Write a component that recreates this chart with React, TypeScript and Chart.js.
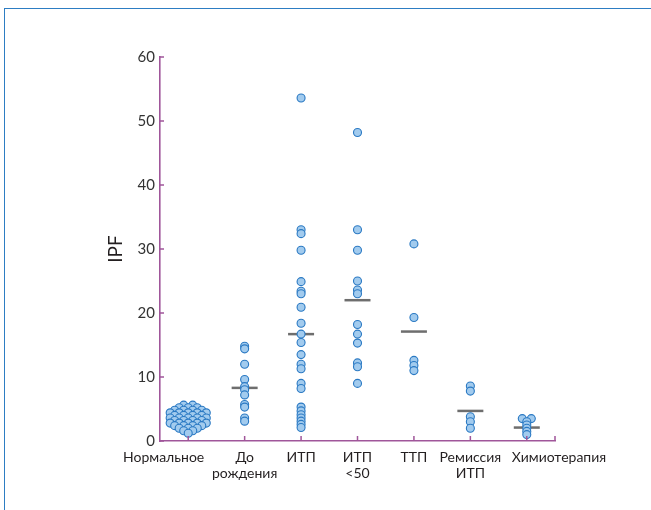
import { useEffect, useRef } from "react";
import { Chart, registerables } from "chart.js";

Chart.register(...registerables);

const categories: string[][] = [
  ["Нормальное"],
  ["До", "рождения"],
  ["ИТП"],
  ["ИТП", "<50"],
  ["ТТП"],
  ["Ремиссия", "ИТП"],
  ["Химиотерапия"],
];

const normal = [
  5.6, 5.6,
  5.2, 5.2, 5.2,
  4.8, 4.8, 4.8, 4.8,
  4.4, 4.4, 4.4, 4.4, 4.4,
  4.0, 4.0, 4.0, 4.0,
  3.6, 3.6, 3.6, 3.6, 3.6,
  3.2, 3.2, 3.2, 3.2,
  2.8, 2.8, 2.8, 2.8, 2.8,
  2.4, 2.4, 2.4, 2.4,
  2.0, 2.0, 2.0,
  1.6, 1.6,
  1.2,
];
const prenatal = [14.8, 14.4, 12.0, 9.6, 8.5, 8.0, 7.2, 5.7, 5.3, 3.6, 3.1];
const itp = [
  53.6, 33.0, 32.4, 29.8, 24.9, 23.4, 23.0, 20.9, 18.4, 16.7, 15.4, 13.5,
  12.0, 11.3, 9.0, 8.2, 5.3, 4.7, 4.1, 3.6, 3.1, 2.6, 2.1,
];
const itpUnder50 = [48.2, 33.0, 29.8, 25.0, 23.6, 23.0, 18.2, 16.7, 15.3, 12.2, 11.6, 9.0];
const ttp = [30.8, 19.3, 12.6, 11.8, 11.0];
const remission = [8.6, 7.8, 3.8, 3.0, 2.0];
const chemo = [3.5, 3.5, 3.0, 2.5, 2.0, 1.5, 1.0];

const groups = [normal, prenatal, itp, itpUnder50, ttp, remission, chemo];
const means = [3.5, 8.3, 16.7, 22.0, 17.1, 4.7, 2.1];
const yTicks = [0, 10, 20, 30, 40, 50, 60];

const AXIS = "#a0569a";
const FONT = "Lato, 'Open Sans', sans-serif";
const SWARM_STEP = 0.16;

function swarm(values: number[], cat: number) {
  const counts = new Map<number, number>();
  values.forEach((v) => counts.set(v, (counts.get(v) || 0) + 1));
  const seen = new Map<number, number>();
  return values.map((v) => {
    const n = counts.get(v) || 1;
    const k = seen.get(v) || 0;
    seen.set(v, k + 1);
    return { x: cat + (k - (n - 1) / 2) * SWARM_STEP, y: v };
  });
}

const axisDecor = {
  id: "axisDecor",
  afterDraw(chart: any) {
    const { ctx, chartArea, scales } = chart;
    const x = scales.x;
    const y = scales.y;
    ctx.save();
    ctx.strokeStyle = AXIS;
    ctx.lineWidth = 1.5;
    ctx.beginPath();
    y.ticks.forEach((t: any) => {
      const py = y.getPixelForValue(t.value);
      ctx.moveTo(chartArea.left, py);
      ctx.lineTo(chartArea.left + 4, py);
    });
    const xs = [...x.ticks.map((t: any) => t.value), x.max];
    xs.forEach((v: number) => {
      const px = x.getPixelForValue(v);
      ctx.moveTo(px, chartArea.bottom);
      ctx.lineTo(px, chartArea.bottom - 5);
    });
    ctx.stroke();

    // category labels (outer ones pulled away from neighbours as in the source)
    ctx.fillStyle = "#231f20";
    ctx.font = `14px ${FONT}`;
    ctx.textBaseline = "middle";
    const last = categories.length - 1;
    categories.forEach((lines, i) => {
      let px = x.getPixelForValue(i);
      let align: CanvasTextAlign = "center";
      if (i === 0) {
        align = "right";
        px += 16;
      } else if (i === last) {
        align = "left";
        px -= 15;
      }
      ctx.textAlign = align;
      lines.forEach((line, j) => {
        ctx.fillText(line, px, chartArea.bottom + 16 + j * 16);
      });
    });
    ctx.restore();
  },
};

export default function App() {
  const ref = useRef<HTMLCanvasElement | null>(null);

  useEffect(() => {
    if (!ref.current) return;
    const points = groups.flatMap((g, i) => swarm(g, i));
    const meanPts = means.map((m, i) => ({ x: i, y: m }));
    const chart = new Chart(ref.current, {
      type: "scatter",
      data: {
        datasets: [
          {
            data: points,
            pointRadius: 4,
            pointBorderWidth: 1.1,
            backgroundColor: "#a2cbee",
            borderColor: "#2a79c3",
          },
          {
            data: meanPts,
            pointStyle: "line",
            pointRadius: 13,
            pointBorderWidth: 2.5,
            borderColor: "#6e6e6e",
            backgroundColor: "#6e6e6e",
          },
        ],
      } as any,
      options: {
        responsive: false,
        animation: false,
        events: [],
        layout: { padding: { left: 0, right: 96, top: 57, bottom: 0 } },
        plugins: {
          legend: { display: false },
          tooltip: { enabled: false },
          title: { display: false },
        },
        scales: {
          x: {
            type: "linear",
            min: -0.5,
            max: 6.5,
            grid: { display: false, drawTicks: false },
            border: { display: true, color: AXIS, width: 1.6 },
            afterBuildTicks: (scale: any) => {
              scale.ticks = categories.map((_, i) => ({ value: i }));
            },
            afterFit: (scale: any) => {
              scale.height = 69;
            },
            ticks: { display: false },
          },
          y: {
            type: "linear",
            min: 0,
            max: 60,
            grid: { display: false, drawTicks: false },
            border: { display: true, color: AXIS, width: 1.6 },
            afterBuildTicks: (scale: any) => {
              scale.ticks = yTicks.map((v) => ({ value: v }));
            },
            afterFit: (scale: any) => {
              scale.width = 160;
            },
            title: {
              display: true,
              text: "IPF",
              color: "#231f20",
              font: { family: FONT, size: 19 },
              padding: { top: 104, bottom: 0 },
            },
            ticks: {
              padding: 5,
              color: "#333333",
              font: { family: FONT, size: 15 },
            },
          },
        },
      } as any,
      plugins: [axisDecor],
    });
    return () => chart.destroy();
  }, []);

  return (
    <div
      style={{
        position: "fixed",
        left: 0,
        top: 0,
        width: 651,
        height: 510,
        overflow: "hidden",
        background: "#ffffff",
      }}
    >
      <div
        style={{
          position: "absolute",
          left: 4,
          top: 8,
          width: 900,
          height: 900,
          border: "1.5px solid #2d7dc3",
          boxSizing: "border-box",
        }}
      />
      <canvas
        ref={ref}
        width={651}
        height={510}
        style={{ position: "absolute", left: 0, top: 0, width: 651, height: 510 }}
      />
    </div>
  );
}
